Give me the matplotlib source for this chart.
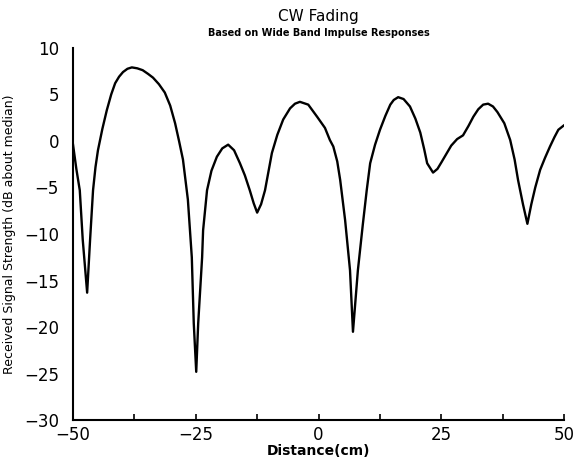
import matplotlib
matplotlib.use("Agg")
import matplotlib.pyplot as plt
from matplotlib.ticker import MultipleLocator, FuncFormatter

distance_cm = [-50.0, -49.3, -48.6, -48.0, -47.1, -46.5, -45.9, -45.4, -44.9, -44.0,
               -43.1, -42.2, -41.4, -40.6, -39.8, -38.9, -38.0, -36.9, -35.8, -34.7,
               -33.7, -32.5, -31.3, -30.2, -29.2, -28.4, -27.6, -26.6, -25.8, -25.4,
               -24.9, -24.5, -23.7, -23.5, -22.7, -21.8, -20.7, -19.6, -18.4, -17.2,
               -16.0, -15.0, -14.0, -13.2, -12.5, -11.7, -10.9, -9.5, -8.4, -7.2,
               -5.8, -4.8, -3.8, -2.1, -0.3, 1.3, 2.3, 3.0, 3.8, 4.4,
               5.4, 6.4, 7.0, 8.0, 9.0, 9.8, 10.5, 11.5, 12.5, 13.6,
               14.6, 15.3, 16.2, 17.3, 18.6, 19.7, 20.7, 21.5, 22.1, 23.3,
               24.2, 25.0, 26.0, 27.0, 28.2, 29.4, 30.5, 31.5, 32.5, 33.5,
               34.5, 35.5, 36.4, 37.8, 39.0, 39.9, 40.6, 41.6, 42.5, 43.3,
               44.1, 45.1, 46.1, 47.1, 48.0, 48.8, 50.0]
signal_db = [-0.3, -3.0, -5.3, -10.6, -16.3, -10.6, -5.3, -2.8, -1.0, 1.3,
             3.3, 5.0, 6.2, 6.9, 7.4, 7.75, 7.9, 7.8, 7.6, 7.2,
             6.8, 6.1, 5.2, 3.8, 1.9, 0.0, -2.0, -6.3, -12.5, -19.6,
             -24.8, -19.6, -12.5, -9.6, -5.3, -3.2, -1.7, -0.8, -0.4, -1.0,
             -2.4, -3.7, -5.3, -6.7, -7.7, -6.8, -5.3, -1.3, 0.65, 2.3,
             3.5, 4.0, 4.2, 3.9, 2.6, 1.4, 0.1, -0.6, -2.2, -4.2,
             -8.5, -13.9, -20.5, -13.9, -9.0, -5.3, -2.4, -0.4, 1.2, 2.7,
             3.9, 4.4, 4.7, 4.5, 3.7, 2.4, 0.9, -0.9, -2.4, -3.4,
             -3.0, -2.3, -1.4, -0.5, 0.2, 0.6, 1.6, 2.6, 3.4, 3.9,
             4.0, 3.7, 3.1, 1.9, 0.1, -2.0, -4.2, -6.8, -8.9, -6.8,
             -5.0, -3.1, -1.8, -0.6, 0.4, 1.2, 1.7]

x_tick_labels = [-50, -25, 0, 25, 50]
y_ticks = [10, 5, 0, -5, -10, -15, -20, -25, -30]

fig = plt.figure(figsize=(5.74, 4.69), dpi=100)
ax = fig.add_axes([0.127, 0.104, 0.856, 0.794])
ax.plot(distance_cm, signal_db, color="black", linewidth=1.7,
        solid_joinstyle="round", solid_capstyle="round")

ax.set_xlim(-50, 50)
ax.set_ylim(-30, 10)
ax.spines["top"].set_visible(False)
ax.spines["right"].set_visible(False)
ax.spines["left"].set_linewidth(1.5)
ax.spines["bottom"].set_linewidth(1.5)

ax.xaxis.set_major_locator(MultipleLocator(12.5))
ax.xaxis.set_major_formatter(FuncFormatter(
    lambda v, p: (f"{int(round(v))}".replace("-", "\u2212")
                  if abs(v - round(v)) < 1e-6 and int(round(v)) in x_tick_labels else "")))
ax.tick_params(axis="x", direction="in", length=4, width=1.2, labelsize=12, pad=4)
ax.set_yticks(y_ticks)
ax.set_yticklabels([str(v).replace("-", "\u2212") for v in y_ticks])
ax.tick_params(axis="y", length=0, labelsize=12, pad=10)

ax.set_xlabel("Distance(cm)", fontsize=10, fontweight="bold", labelpad=0)
ax.set_ylabel("Received Signal Strength (dB about median)", fontsize=9, labelpad=6)

fig.text(0.555, 0.965, "CW Fading", ha="center", va="center", fontsize=11)
fig.text(0.555, 0.930, "Based on Wide Band Impulse Responses", ha="center", va="center",
         fontsize=7, fontweight="bold")

fig.savefig("out.png", dpi=100)
